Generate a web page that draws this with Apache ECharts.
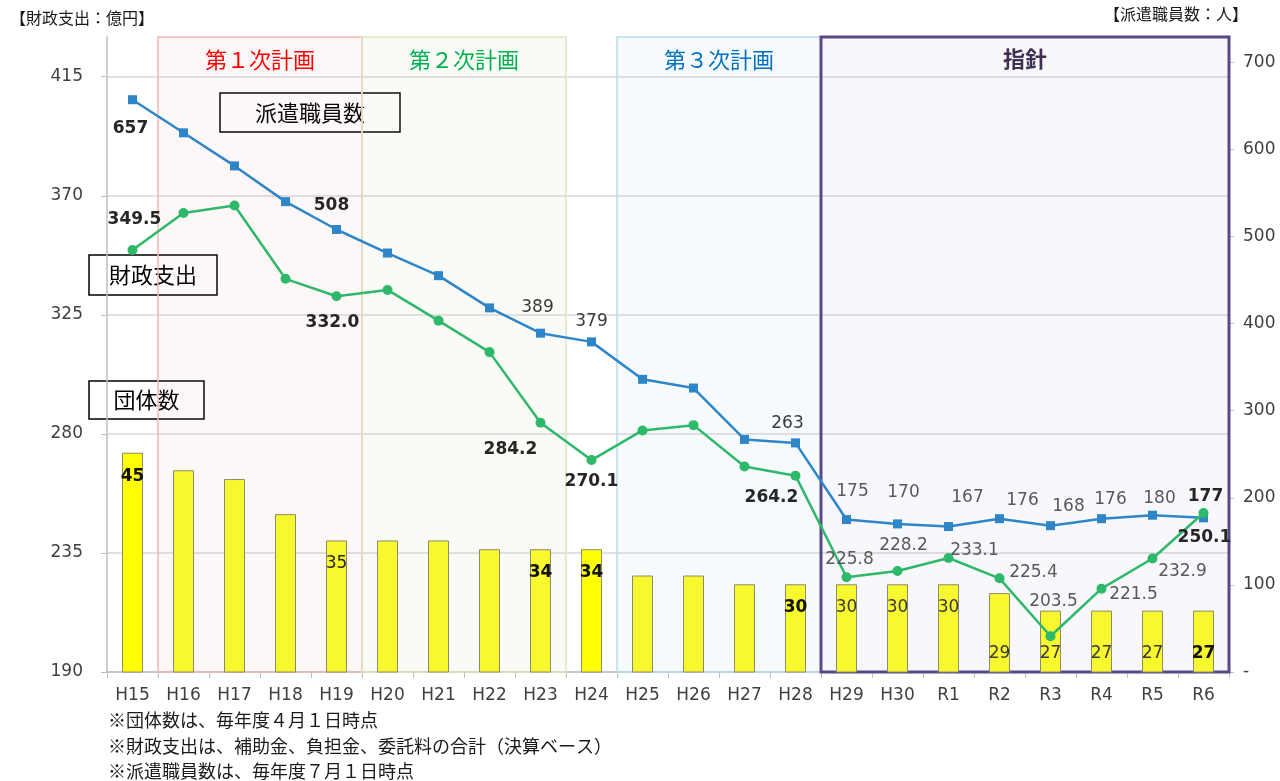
<!DOCTYPE html>
<html>
<head>
<meta charset="utf-8">
<script src="https://cdn.jsdelivr.net/npm/echarts@6/dist/echarts.min.js"></script>
<style>
html, body { margin: 0; padding: 0; background: #fff; }
#chart { width: 1280px; height: 781px; }
</style>
</head>
<body>
<div id="chart"></div>
<script>
// 年度
const years = ["H15", "H16", "H17", "H18", "H19", "H20", "H21", "H22", "H23", "H24", "H25",
  "H26", "H27", "H28", "H29", "H30", "R1", "R2", "R3", "R4", "R5", "R6"];
// 団体数
const groupCount = [45, 43, 42, 38, 35, 35, 35, 34, 34, 34, 31, 31, 30, 30, 30, 30, 30, 29, 27, 27, 27, 27];
// 財政支出（億円）
const spending = [349.5, 363.5, 366.3, 338.6, 332.0, 334.4, 322.8, 310.9, 284.2, 270.1, 281.3,
  283.3, 267.7, 264.2, 225.8, 228.2, 233.1, 225.4, 203.5, 221.5, 232.9, 250.1];
// 派遣職員数（人）
const staff = [657, 619, 581, 540, 508, 481, 455, 418, 389, 379, 336, 326, 267, 263,
  175, 170, 167, 176, 168, 176, 180, 177];
// 計画期間
const planNames = ["第１次計画", "第２次計画", "第３次計画", "指針"];
const planFrom = ["H16", "H20", "H25", "H29"];
const planTo = ["H19", "H23", "H28", "R6"];
// 注記
const notes = ["※団体数は、毎年度４月１日時点", "※財政支出は、補助金、負担金、委託料の合計（決算ベース）", "※派遣職員数は、毎年度７月１日時点"];

// ラベル位置 [dx, dy, 種類 0:通常 1:太字 2:濃い通常]
const staffLabelPos = {
  0: [-2, 29, 1], 4: [-5, -24, 1], 8: [-3, -26, 2], 9: [0, -20, 2], 13: [-8, -19, 2],
  14: [6, -28, 0], 15: [6, -31, 0], 16: [19, -29, 0], 17: [23, -18, 0], 18: [18, -19, 0],
  19: [9, -19, 0], 20: [7, -17, 0], 21: [2, -21, 1]
};
const spendLabelPos = {
  0: [2, -30, 1], 4: [-4, 26, 1], 8: [-30, 27, 1], 9: [0, 22, 1], 13: [-24, 22, 1],
  14: [3, -18, 0], 15: [6, -25, 0], 16: [26, -7, 0], 17: [34, -6, 0], 18: [3, -35, 0],
  19: [32, 6, 0], 20: [30, 13, 0], 21: [1, 25, 1]
};
const barBold = [0, 8, 9, 13, 21];
const barShown = [0, 4, 8, 9, 13, 14, 15, 16, 17, 18, 19, 20, 21];

const planStyles = [
  { border: "#f0b8b8", fill: "rgba(225,120,120,0.06)", text: "#ff0000", width: 1.5, weight: "normal" },
  { border: "#dbe6c2", fill: "rgba(190,205,140,0.08)", text: "#00b050", width: 1.5, weight: "normal" },
  { border: "#b9dde9", fill: "rgba(140,195,230,0.08)", text: "#0070c0", width: 1.5, weight: "normal" },
  { border: "#5b4886", fill: "rgba(110,100,170,0.05)", text: "#3f3151", width: 3, weight: "bold" }
];
const labelColors = ["#595959", "#262626", "#3a3a3a"];

const numFont = "DejaVu Sans";
const jpFont = "Noto Sans CJK JP";

function lineData(values, pos, fmt) {
  return values.map(function (v, i) {
    const p = pos[i];
    if (!p) return v;
    return {
      value: v,
      label: {
        show: true,
        position: "inside",
        offset: [p[0], p[1]],
        formatter: fmt(v),
        fontWeight: p[2] === 1 ? "bold" : "normal",
        color: labelColors[p[2]]
      }
    };
  });
}

const barData = groupCount.map(function (v, i) {
  const bold = barBold.indexOf(i) >= 0;
  const item = {
    value: v,
    itemStyle: { color: (i === 0 || i === 9) ? "#ffff00" : "#f8f82e" },
    label: { show: barShown.indexOf(i) >= 0 }
  };
  if (item.label.show) {
    item.label.position = i >= 17 ? "insideBottom" : "insideTop";
    item.label.distance = i >= 17 ? 10 : 15;
    item.label.fontWeight = bold ? "bold" : "normal";
    item.label.color = bold ? "#111" : (i === 4 ? "#262626" : "#3a3a3a");
  }
  return item;
});

const areaData = planNames.map(function (name, k) {
  const s = planStyles[k];
  return [
    {
      name: name,
      xAxis: years.indexOf(planFrom[k]),
      itemStyle: { color: s.fill, borderColor: s.border, borderWidth: s.width },
      label: { color: s.text, fontWeight: s.weight }
    },
    { xAxis: years.indexOf(planTo[k]) + 1 }
  ];
});

function box(x, y, w, h, text) {
  return {
    type: "group",
    children: [
      { type: "rect", shape: { x: x, y: y, width: w, height: h }, style: { fill: "#fff", stroke: "#000", lineWidth: 1.5 } },
      { type: "text", style: { x: x + w / 2, y: y + h / 2, text: text, font: "22px '" + jpFont + "'", fill: "#000", align: "center", verticalAlign: "middle" } }
    ],
    z: 100
  };
}

function note(y, text, size, x, align) {
  return {
    type: "text",
    style: { x: x, y: y, text: text, font: size + "px '" + jpFont + "'", fill: "#1a1a1a", align: align, verticalAlign: "middle" }
  };
}

const chart = echarts.init(document.getElementById("chart"));
chart.setOption({
  animation: false,
  backgroundColor: "#fff",
  grid: { left: 107, right: 51, top: 37, bottom: 109, containLabel: false, outerBoundsMode: "none" },
  xAxis: [
    {
      type: "category",
      data: years,
      boundaryGap: true,
      axisLine: { show: true, lineStyle: { color: "#bfbfbf", width: 1.5 } },
      axisTick: { show: true, length: 6, lineStyle: { color: "#bfbfbf" } },
      axisLabel: { color: "#404040", fontSize: 17, fontFamily: numFont, margin: 15, interval: 0 }
    },
    { type: "value", min: 0, max: 22, show: false }
  ],
  yAxis: [
    {
      type: "value",
      min: 190,
      max: 430,
      interval: 45,
      position: "left",
      axisLine: { show: true, lineStyle: { color: "#bfbfbf", width: 1.5 } },
      axisTick: { show: true, length: 6, lineStyle: { color: "#bfbfbf" } },
      axisLabel: {
        color: "#404040", fontSize: 17, fontFamily: numFont, margin: 24, showMaxLabel: false,
        formatter: function (v) { return v > 415 ? "" : String(v); }
      },
      splitLine: { show: true, showMaxLine: false, lineStyle: { color: "#d9d9d9", width: 1.5 } }
    },
    {
      type: "value",
      min: 0,
      max: 729,
      interval: 100,
      position: "right",
      axisLine: { show: true, lineStyle: { color: "#bfbfbf" } },
      axisTick: { show: true, length: 5, lineStyle: { color: "#bfbfbf" } },
      axisLabel: {
        color: "#404040", fontSize: 17, fontFamily: numFont, margin: 14, showMaxLabel: false,
        formatter: function (v) { return v === 0 ? "-" : (v > 700 ? "" : String(v)); }
      },
      splitLine: { show: false }
    },
    { type: "value", min: 20, max: 92.4, show: false }
  ],
  series: [
    {
      name: "計画",
      type: "line",
      xAxisIndex: 1,
      yAxisIndex: 0,
      data: [],
      silent: true,
      z: 1,
      markArea: {
        silent: true,
        label: { show: true, position: "insideTop", distance: 12, fontSize: 22, fontFamily: jpFont },
        data: areaData
      }
    },
    {
      name: "団体数",
      type: "bar",
      yAxisIndex: 2,
      barWidth: 21,
      z: 2,
      itemStyle: { borderColor: "#8c8c6c", borderWidth: 1 },
      label: { fontSize: 17, fontFamily: numFont },
      data: barData
    },
    {
      name: "派遣職員数",
      type: "line",
      yAxisIndex: 1,
      z: 3,
      symbol: "rect",
      symbolSize: 9,
      lineStyle: { color: "#2e86c9", width: 2.5 },
      itemStyle: { color: "#2e86c9" },
      label: { fontSize: 17, fontFamily: numFont },
      data: lineData(staff, staffLabelPos, function (v) { return String(v); })
    },
    {
      name: "財政支出",
      type: "line",
      yAxisIndex: 0,
      z: 4,
      symbol: "circle",
      symbolSize: 10,
      lineStyle: { color: "#2db86a", width: 2.5 },
      itemStyle: { color: "#2db86a" },
      label: { fontSize: 17, fontFamily: numFont },
      data: lineData(spending, spendLabelPos, function (v) { return v.toFixed(1); })
    }
  ],
  graphic: [
    box(220, 93, 180, 39, "派遣職員数"),
    box(89, 255, 128, 40, "財政支出"),
    box(89, 381, 115, 38, "団体数"),
    note(18, "【財政支出：億円】", 16, 10, "left"),
    note(14, "【派遣職員数：人】", 16, 1248, "right"),
    note(720, notes[0], 18, 108, "left"),
    note(746, notes[1], 18, 108, "left"),
    note(771, notes[2], 18, 108, "left")
  ]
});
</script>
</body>
</html>
